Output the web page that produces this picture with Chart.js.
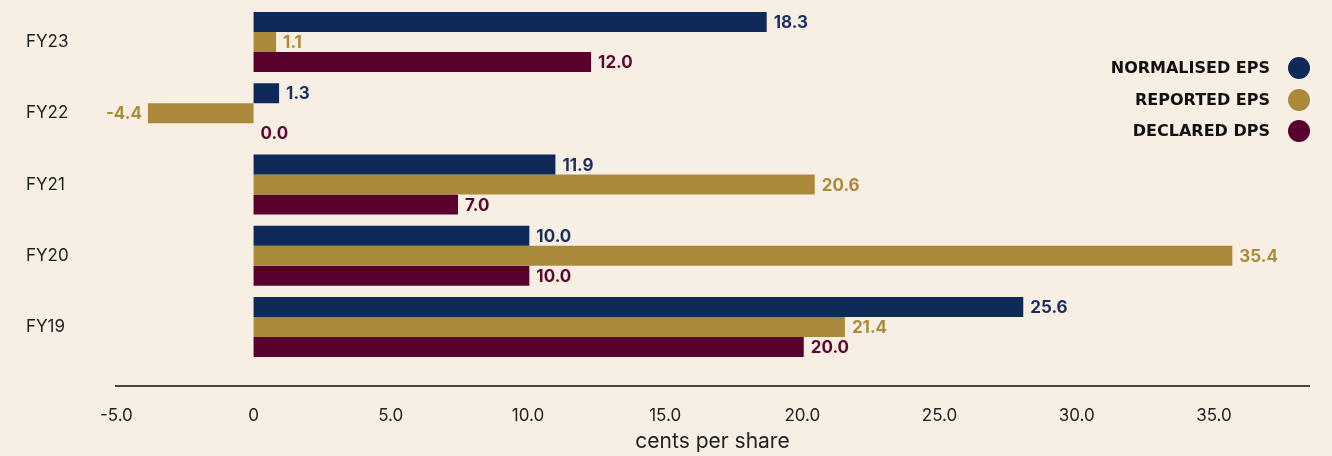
<!DOCTYPE html>
<html>
<head>
<meta charset="utf-8">
<script src="https://cdn.jsdelivr.net/npm/chart.js@4.4.0/dist/chart.umd.min.js"></script>
<style>
  html, body { margin: 0; padding: 0; background: #f7efe3; }
  #wrap { width: 1332px; height: 456px; position: relative; }
</style>
</head>
<body>
<div id="wrap"><canvas id="epsChart"></canvas></div>
<script>
// categories and series (bar lengths as drawn, labels as printed)
var categories = ['FY23', 'FY22', 'FY21', 'FY20', 'FY19'];
var normalisedEps = [18.7, 0.93, 11.0, 10.05, 28.05];
var reportedEps = [0.82, -3.85, 20.45, 35.67, 21.55];
var declaredDps = [12.3, 0, 7.45, 10.05, 20.05];
var normalisedLabels = ['18.3', '1.3', '11.9', '10.0', '25.6'];
var reportedLabels = ['1.1', '-4.4', '20.6', '35.4', '21.4'];
var declaredLabels = ['12.0', '0.0', '7.0', '10.0', '20.0'];
var xTicks = [-5, 0, 5, 10, 15, 20, 25, 30, 35];

var navy = '#0f2a59';
var gold = '#aa8a3a';
var maroon = '#5a002c';

// value labels at the bar ends
var barLabels = {
  id: 'barLabels',
  afterDatasetsDraw: function (chart) {
    var ctx = chart.ctx;
    ctx.save();
    ctx.font = 'bold 17px Inter';
    ctx.textBaseline = 'middle';
    chart.data.datasets.forEach(function (ds, i) {
      var meta = chart.getDatasetMeta(i);
      meta.data.forEach(function (bar, j) {
        var v = ds.data[j];
        ctx.fillStyle = ds.labelColor;
        if (v < 0) {
          ctx.textAlign = 'right';
          ctx.fillText(ds.valueLabels[j], bar.x - 6, bar.y + 1);
        } else {
          ctx.textAlign = 'left';
          ctx.fillText(ds.valueLabels[j], bar.x + 7, bar.y + 1);
        }
      });
    });
    ctx.restore();
  }
};

// axis line below the bars and the legend on the right
var extras = {
  id: 'extras',
  afterDraw: function (chart) {
    var ctx = chart.ctx;
    var area = chart.chartArea;
    ctx.save();
    ctx.strokeStyle = '#4a4540';
    ctx.lineWidth = 2;
    ctx.beginPath();
    ctx.moveTo(area.left, 386);
    ctx.lineTo(area.right, 386);
    ctx.stroke();

    var rows = [68, 100, 131];
    ctx.font = 'bold 16px "DejaVu Sans"';
    ctx.textAlign = 'right';
    ctx.textBaseline = 'middle';
    chart.data.datasets.forEach(function (ds, i) {
      ctx.fillStyle = '#111111';
      ctx.fillText(ds.label, 1270, rows[i] + 1);
      ctx.fillStyle = ds.backgroundColor;
      ctx.beginPath();
      ctx.arc(1299, rows[i], 11, 0, Math.PI * 2);
      ctx.fill();
    });
    ctx.restore();
  }
};

var ctx = document.getElementById('epsChart').getContext('2d');
var chart = new Chart(ctx, {
  type: 'bar',
  data: {
    labels: categories,
    datasets: [
      { label: 'NORMALISED EPS', data: normalisedEps, valueLabels: normalisedLabels,
        backgroundColor: navy, labelColor: '#1b2f5e' },
      { label: 'REPORTED EPS', data: reportedEps, valueLabels: reportedLabels,
        backgroundColor: gold, labelColor: '#ab8a3a' },
      { label: 'DECLARED DPS', data: declaredDps, valueLabels: declaredLabels,
        backgroundColor: maroon, labelColor: '#5a0a30' }
    ]
  },
  options: {
    indexAxis: 'y',
    responsive: true,
    maintainAspectRatio: false,
    animation: false,
    layout: { padding: { top: 6.4, left: 26, right: 22, bottom: 0 } },
    datasets: { bar: { categoryPercentage: 0.842, barPercentage: 1.0 } },
    plugins: { legend: { display: false }, tooltip: { enabled: false } },
    scales: {
      x: {
        min: -5.05,
        max: 38.5,
        grid: { display: false },
        border: { display: false },
        afterBuildTicks: function (scale) {
          scale.ticks = xTicks.map(function (v) { return { value: v }; });
        },
        afterFit: function (scale) { scale.height = 93.4; },
        ticks: {
          padding: 35,
          color: '#222222',
          font: { family: 'Inter', size: 17 },
          callback: function (v) { return v === 0 ? '0' : v.toFixed(1); }
        },
        title: {
          display: true,
          text: 'cents per share',
          color: '#222222',
          font: { family: 'Inter', size: 21 },
          padding: { top: 0, bottom: 2 }
        }
      },
      y: {
        grid: { display: false },
        border: { display: false },
        afterFit: function (scale) {
          scale.width = 89;
          scale.paddingTop = 0;
          scale.paddingBottom = 0;
        },
        ticks: {
          crossAlign: 'far',
          color: '#222222',
          font: { family: 'Inter', size: 17 }
        }
      }
    }
  },
  plugins: [barLabels, extras]
});
</script>
</body>
</html>
